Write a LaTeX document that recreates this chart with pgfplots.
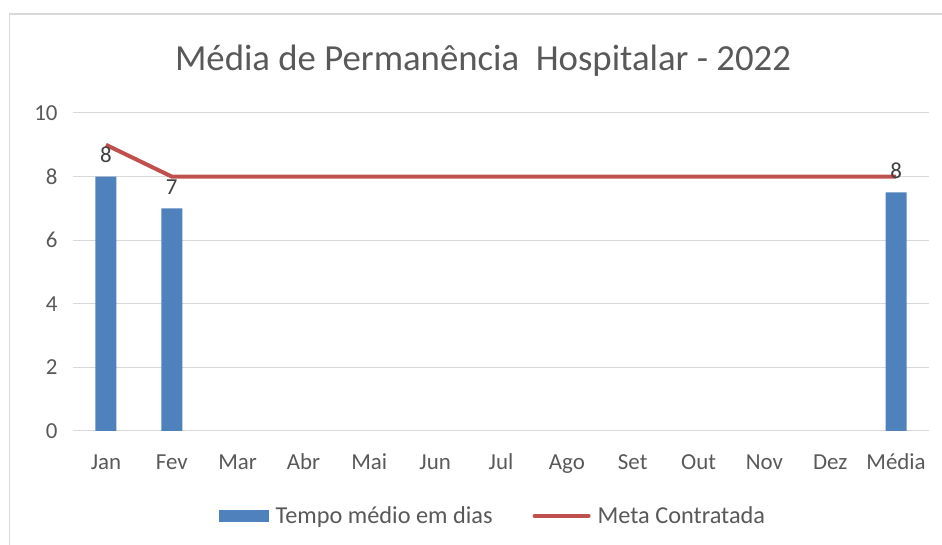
\documentclass[border=0pt]{standalone}
\usepackage{fontspec}
\setmainfont{Carlito}
\usepackage{pgfplots}
\pgfplotsset{compat=1.18}
\definecolor{barblue}{HTML}{4F81BD}
\definecolor{linered}{HTML}{C0504D}
\definecolor{gridgray}{HTML}{D9D9D9}
\definecolor{txtgray}{HTML}{595959}
\definecolor{lblgray}{HTML}{404040}
\begin{document}
\begin{tikzpicture}[x=1bp,y=1bp]
\useasboundingbox (0,0) rectangle (942,545);
\draw[gridgray, line width=1.5bp] (9.5,0) -- (9.5,531) -- (942,531);
\node[anchor=base, text=txtgray, font=\fontsize{36.9}{44}\selectfont] at (483,474) {Média de Permanência\ \ Hospitalar - 2022};
\begin{axis}[
 at={(73bp,114bp)}, anchor=south west,
 scale only axis, width=856bp, height=318bp,
 xmin=-0.5, xmax=12.5, ymin=0, ymax=10,
 xtick={0,...,12}, xticklabels={Jan,Fev,Mar,Abr,Mai,Jun,Jul,Ago,Set,Out,Nov,Dez,Média},
 ytick={0,2,...,10},
 ymajorgrids, grid style={gridgray, line width=1bp},
 axis line style={draw=none},
 major tick length=0pt,
 tick label style={font=\fontsize{23}{27}\selectfont, text=txtgray},
 /pgf/number format/assume math mode=true,
 yticklabel style={xshift=-12bp},
 xticklabel style={text height=15bp, text depth=4bp, yshift=-20bp},
 legend columns=2,
 legend style={at={(0.4905,-0.267)}, anchor=center, draw=none, font=\fontsize{24.4}{28}\selectfont, text=txtgray, /tikz/every even column/.append style={column sep=38bp}, /tikz/every odd column/.append style={column sep=5bp}},
]
\addplot[ybar, bar width=21bp, fill=barblue, draw=none, point meta=explicit symbolic, nodes near coords, nodes near coords style={text=lblgray, font=\fontsize{23}{27}\selectfont, yshift=10bp}, legend image code/.code={\fill[barblue] (0bp,-6bp) rectangle (50bp,6bp);}] coordinates {(0,8)[8] (1,7)[7] (12,7.5)[8]};
\addlegendentry{Tempo médio em dias}
\addplot[linered, line width=4bp, mark=none, legend image code/.code={\draw[linered, line width=4bp, line cap=round] (0bp,0bp) -- (54bp,0bp);}] coordinates {(0,9) (1,8) (2,8) (3,8) (4,8) (5,8) (6,8) (7,8) (8,8) (9,8) (10,8) (11,8) (12,8)};
\addlegendentry{Meta Contratada}
\end{axis}
\end{tikzpicture}
\end{document}
